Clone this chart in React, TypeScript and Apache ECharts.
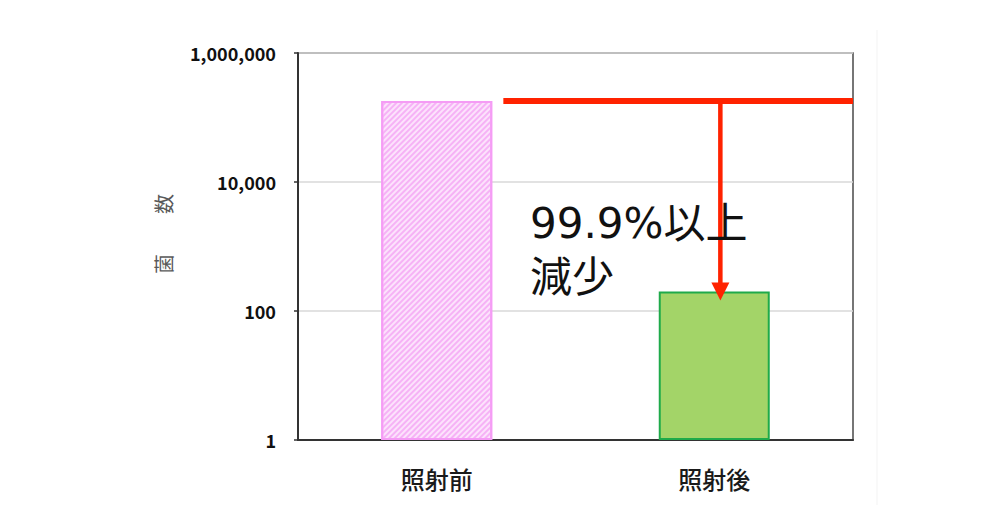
import React, { useEffect, useRef } from "react";
import * as echarts from "echarts";

// 菌数 (対数目盛)
const categories = ["照射前", "照射後"];
const counts = [180000, 200];
const yTickValues = [1, 100, 10000, 1000000];
const yTickLabels = ["1", "100", "10,000", "1,000,000"];
const annotationLines = ["99.9%以上", "減少"];
const yAxisTitle = "菌　　数";

const JP_FONT = '"Noto Sans CJK JP", "Noto Sans", sans-serif';
const NOTE_FONT = '"DejaVu Sans", "Noto Sans CJK JP", sans-serif';
const RED = "#ff2200";

const App = () => {
  const chartRef = useRef<HTMLDivElement | null>(null);

  useEffect(() => {
    if (!chartRef.current) return;
    const myChart = echarts.init(chartRef.current, null, { renderer: "svg" });

    const option = {
      animation: false,
      backgroundColor: "#ffffff",
      grid: {
        left: 298,
        right: 147,
        top: 53,
        bottom: 92,
        show: true,
        borderColor: "#4a4a4a",
        borderWidth: 1.5,
      },
      xAxis: {
        type: "category",
        data: categories,
        axisLine: { lineStyle: { color: "#333", width: 2 } },
        axisTick: { show: false },
        axisLabel: {
          color: "#1a1a1a",
          fontFamily: JP_FONT,
          fontSize: 24,
          fontWeight: 500,
          margin: 26,
        },
      },
      yAxis: {
        type: "log",
        logBase: 100,
        min: yTickValues[0],
        max: yTickValues[yTickValues.length - 1],
        axisLine: { show: true, lineStyle: { color: "#333", width: 2 } },
        axisTick: { show: true, length: 4, lineStyle: { color: "#333", width: 1.5 } },
        splitLine: { show: true, lineStyle: { color: "#d9d9d9", width: 1.5 } },
        axisLabel: {
          color: "#111",
          fontFamily: JP_FONT,
          fontSize: 18,
          fontWeight: "bold",
          margin: 22,
          formatter: (v: number) => {
            const i = yTickValues.indexOf(Math.round(v));
            return i >= 0 ? yTickLabels[i] : "";
          },
        },
      },
      series: [
        {
          type: "bar",
          barWidth: "40%",
          data: [
            {
              value: counts[0],
              itemStyle: {
                color: "#fce2fc",
                borderColor: "#f59cf5",
                borderWidth: 2,
                decal: {
                  symbol: "rect",
                  symbolSize: 1,
                  color: "#f6b2f6",
                  dashArrayX: [1, 0],
                  dashArrayY: [1.5, 2],
                  rotation: -Math.PI / 4,
                },
              },
            },
            {
              value: counts[1],
              itemStyle: {
                color: "#a3d468",
                borderColor: "#1faa4a",
                borderWidth: 2,
              },
            },
          ],
        },
      ],
    };

    myChart.setOption(option);

    // 注記 (赤線・矢印・テキスト) は軸の座標から求める
    const p0 = myChart.convertToPixel({ seriesIndex: 0 }, [0, counts[0]]) as number[];
    const p1 = myChart.convertToPixel({ seriesIndex: 0 }, [1, counts[1]]) as number[];
    const band = p1[0] - p0[0];
    const lineY = p0[1];
    const arrowX = p1[0] + 0.022 * band;
    const tipY = p1[1] + 9;

    myChart.setOption({
      graphic: [
        {
          type: "line",
          z: 50,
          shape: { x1: p0[0] + 0.24 * band, y1: lineY, x2: p1[0] + band / 2, y2: lineY },
          style: { stroke: RED, lineWidth: 6 },
        },
        {
          type: "line",
          z: 50,
          shape: { x1: arrowX, y1: lineY, x2: arrowX, y2: tipY - 14 },
          style: { stroke: RED, lineWidth: 4.5 },
        },
        {
          type: "polygon",
          z: 50,
          shape: {
            points: [
              [arrowX - 9, tipY - 18],
              [arrowX + 9, tipY - 18],
              [arrowX, tipY],
            ],
          },
          style: { fill: RED },
        },
        {
          type: "text",
          z: 60,
          x: p0[0] + 0.336 * band,
          y: 196,
          style: {
            text: annotationLines.join("\n"),
            font: `normal 42px ${NOTE_FONT}`,
            fill: "#111",
            lineHeight: 54,
          },
        },
        {
          type: "text",
          z: 60,
          x: 163,
          y: 234,
          rotation: Math.PI / 2,
          style: {
            text: yAxisTitle,
            font: `normal 20px ${JP_FONT}`,
            fill: "#595959",
            align: "center",
            verticalAlign: "middle",
          },
        },
        {
          type: "line",
          z: 1,
          shape: { x1: 877, y1: 30, x2: 877, y2: 505 },
          style: { stroke: "#f3f3f3", lineWidth: 1 },
        },
      ],
    });

    return () => {
      myChart.dispose();
    };
  }, []);

  return (
    <div
      ref={chartRef}
      style={{ position: "absolute", left: 0, top: 0, width: "1000px", height: "532px" }}
    ></div>
  );
};

export default App;
